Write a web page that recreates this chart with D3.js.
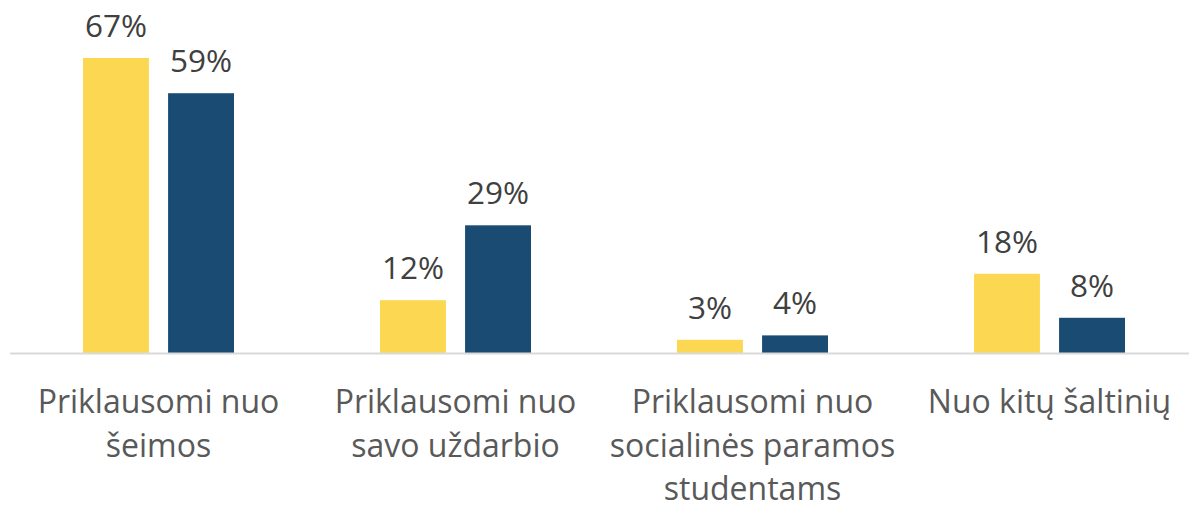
<!DOCTYPE html>
<html>
<head>
<meta charset="utf-8">
<script src="https://cdn.jsdelivr.net/npm/d3@7"></script>
<style>
  body { margin: 0; background: #fff; }
  svg text { font-family: "Open Sans", sans-serif; }
</style>
</head>
<body>
<svg id="svg"></svg>
<script>
// chart data
let categories = [
    ["Priklausomi nuo", "šeimos"],
    ["Priklausomi nuo", "savo uždarbio"],
    ["Priklausomi nuo", "socialinės paramos", "studentams"],
    ["Nuo kitų šaltinių"]
];
let seriesNames = ["a", "b"];
let seriesA = [67, 12, 3, 18];
let seriesB = [59, 29, 4, 8];

function sketch() {
    let width = 1189;
    let height = 508;
    let svg = d3.select("#svg")
        .attr("width", width)
        .attr("height", height);

    let colors = ["#FCD852", "#1A4B72"];
    let baseline = 353;

    let x = d3.scaleBand()
        .domain(d3.range(categories.length))
        .range([10, 1198]);

    let xInner = d3.scaleBand()
        .domain(seriesNames)
        .range([73, 224])
        .paddingInner(17 / 151 * 2);

    let y = d3.scaleLinear()
        .domain([0, 67])
        .range([baseline, 58]);

    let rows = categories.map((c, i) => ({
        idx: i,
        label: c,
        values: [seriesA[i], seriesB[i]]
    }));

    let g = svg.append("g");

    let groups = g.selectAll("g.cat")
        .data(rows)
        .enter()
        .append("g")
        .attr("class", "cat")
        .attr("transform", (d) => "translate(" + x(d.idx) + ",0)");

    let bars = groups.selectAll("g.bar")
        .data((d) => d.values.map((v, j) => ({ v: v, s: seriesNames[j], j: j })))
        .enter()
        .append("g")
        .attr("class", "bar");

    bars.append("rect")
        .attr("x", (d) => xInner(d.s))
        .attr("y", (d) => y(d.v))
        .attr("width", xInner.bandwidth())
        .attr("height", (d) => baseline - y(d.v))
        .attr("fill", (d) => colors[d.j]);

    bars.append("text")
        .attr("x", (d) => xInner(d.s) + xInner.bandwidth() / 2)
        .attr("y", (d) => y(d.v) - 21)
        .attr("text-anchor", "middle")
        .attr("fill", "#404040")
        .attr("font-size", "31.5px")
        .text((d) => d.v + "%");

    // axis line
    g.append("line")
        .attr("x1", 10)
        .attr("x2", width)
        .attr("y1", baseline + 0.5)
        .attr("y2", baseline + 0.5)
        .attr("stroke", "#d9d9d9")
        .attr("stroke-width", 2);

    // category labels
    let labels = groups.append("text")
        .attr("text-anchor", "middle")
        .attr("fill", "#595959")
        .attr("font-size", "32px");

    labels.selectAll("tspan")
        .data((d) => d.label)
        .enter()
        .append("tspan")
        .attr("x", x.bandwidth() / 2)
        .attr("y", (d, i) => 413 + i * 43.5)
        .text((d) => d);
}

sketch();
</script>
</body>
</html>
